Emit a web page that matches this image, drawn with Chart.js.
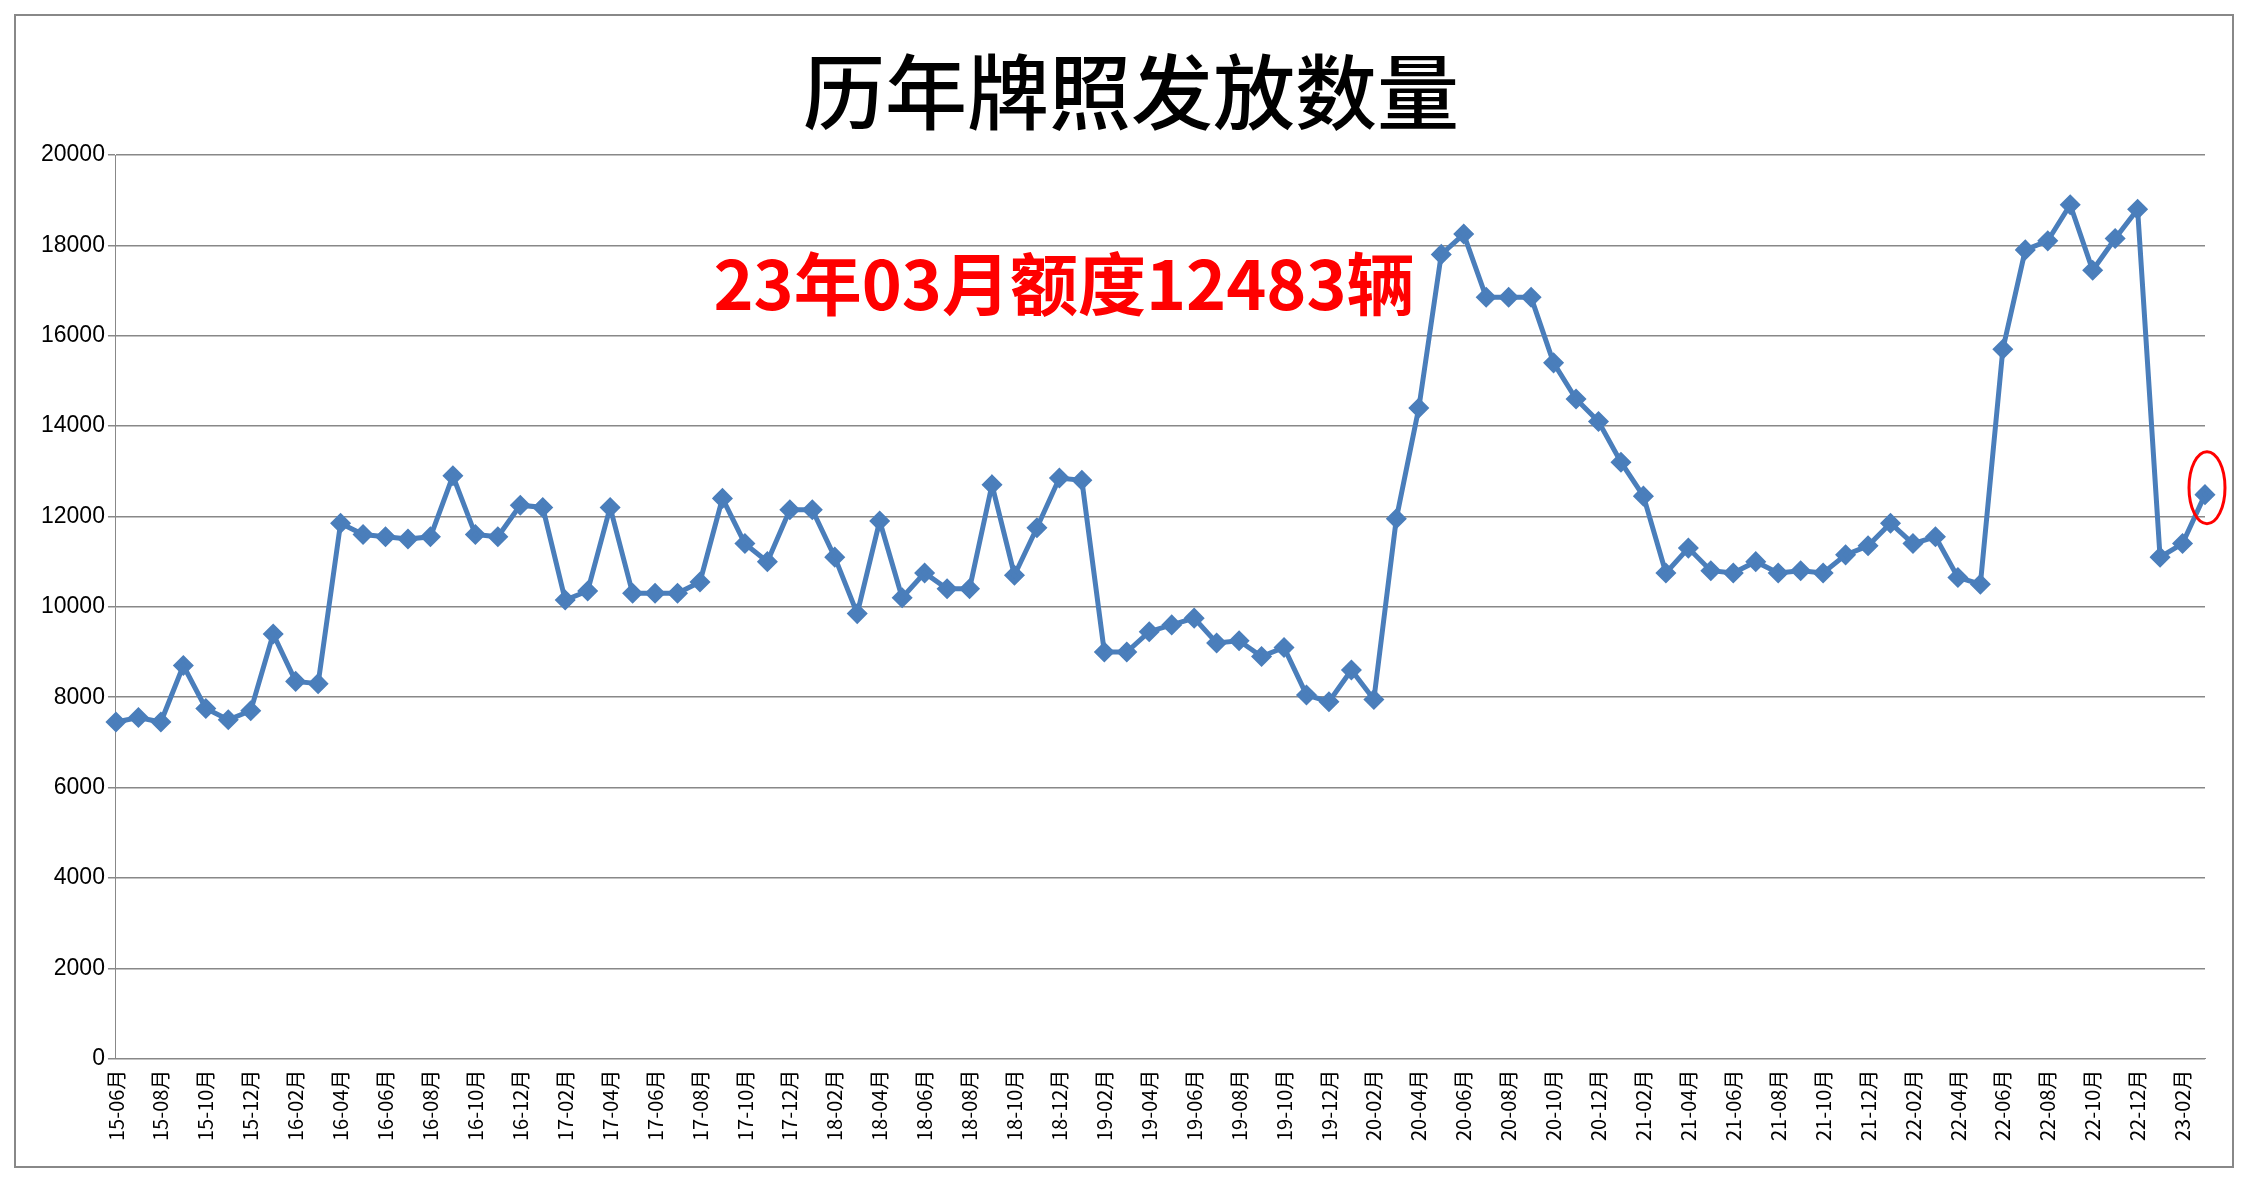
<!DOCTYPE html>
<html><head><meta charset="utf-8">
<script src="https://cdn.jsdelivr.net/npm/chart.js@4"></script>
<style>
html,body{margin:0;padding:0;background:#fff;}
#wrap{position:absolute;left:14px;top:14px;width:2220px;height:1154px;border:2px solid #888;box-sizing:border-box;}
canvas{display:block;}
</style></head><body>
<div id="wrap"><canvas id="c"></canvas></div>
<script>
const titleText = "历年牌照发放数量";
const noteText = "23年03月额度12483辆";
const startYear = 15, startMonth = 6;
const values = [7450,7550,7450,8700,7750,7500,7700,9400,8350,8300,
11850,11600,11550,11500,11550,12900,11600,11550,12250,12200,
10150,10350,12200,10300,10300,10300,10550,12400,11400,11000,
12150,12150,11100,9850,11900,10200,10750,10400,10400,12700,
10700,11750,12850,12800,9000,9000,9450,9600,9750,9200,
9250,8900,9100,8050,7900,8600,7950,11950,14400,17800,
18250,16850,16850,16850,15400,14600,14100,13200,12450,10750,
11300,10800,10750,11000,10750,10800,10750,11150,11350,11850,
11400,11550,10650,10500,15700,17900,18100,18900,17450,18150,
18800,11100,11400,12483];
const labels = values.map((v,i)=>{const m=startMonth-1+i;const y=startYear+Math.floor(m/12);const mm=m%12+1;return y+"-"+String(mm).padStart(2,"0")+"月";});
const deco = {id:'deco',afterDraw(ch){
  const c=ch.ctx;c.save();
  c.fillStyle='#000';c.textAlign='center';c.textBaseline='middle';
  c.font='500 82px "Noto Sans CJK SC"';
  c.fillText(titleText,1115,76);
  c.fillStyle='#ff0000';c.font='bold 68px "Noto Sans CJK SC"';
  c.fillText(noteText,1048,268);
  const x=ch.scales.x.getPixelForValue(values.length-1), y=ch.scales.y.getPixelForValue(values[values.length-1]);
  c.strokeStyle='#ff0000';c.lineWidth=3;c.beginPath();c.ellipse(x+2,y-7,18,36,0,0,Math.PI*2);c.stroke();
  c.restore();}};
new Chart(document.getElementById('c'),{type:'line',
 data:{labels,datasets:[{data:values,borderColor:'#4A7EBB',backgroundColor:'#4A7EBB',borderWidth:5,pointStyle:'rectRot',pointRadius:7,pointHoverRadius:7,tension:0}]},
 options:{responsive:true,maintainAspectRatio:false,animation:false,
  layout:{padding:{top:139,right:4,left:22,bottom:22}},
  plugins:{legend:{display:false},tooltip:{enabled:false}},
  scales:{
   x:{offset:false,grid:{display:false},border:{color:'#888'},
      ticks:{autoSkip:false,maxRotation:90,minRotation:90,color:'#000',font:{size:20,family:'"Noto Sans CJK SC"'},
      callback:(v,i)=>i%2===0?labels[i]:''}},
   y:{min:0,max:20000,ticks:{stepSize:2000,color:'#000',font:{size:23,family:'Liberation Sans'},callback:v=>String(v)},grid:{color:'#888',lineWidth:1.5},border:{color:'#888'}}
  }},
 plugins:[deco]});
</script></body></html>
